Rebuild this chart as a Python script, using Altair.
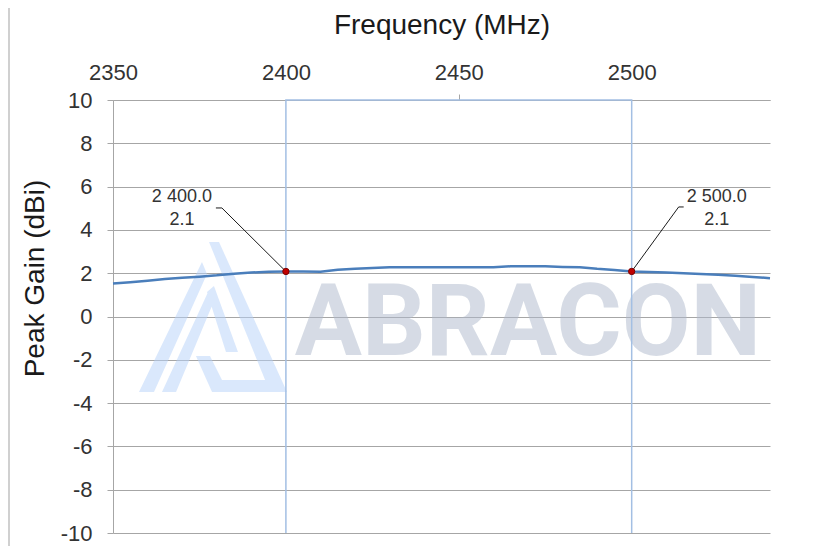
import altair as alt
import pandas as pd

# ---- data ----
freq_mhz = [2350, 2355, 2360, 2365, 2370, 2375, 2380, 2385, 2390, 2395,
            2400, 2405, 2410, 2415, 2420, 2425, 2430, 2435, 2440, 2445,
            2450, 2455, 2460, 2465, 2470, 2475, 2480, 2485, 2490, 2495,
            2500, 2505, 2510, 2515, 2520, 2525, 2530, 2535, 2540]
peak_gain_dbi = [1.52, 1.58, 1.65, 1.73, 1.79, 1.84, 1.90, 1.98, 2.03, 2.07,
                 2.08, 2.08, 2.07, 2.16, 2.20, 2.24, 2.27, 2.27, 2.27, 2.27,
                 2.27, 2.27, 2.28, 2.32, 2.32, 2.32, 2.29, 2.27, 2.20, 2.15,
                 2.08, 2.05, 2.03, 2.00, 1.96, 1.93, 1.88, 1.83, 1.77]
band_freq = [2400, 2400, 2500, 2500]
band_gain = [-10, 10, 10, -10]
marker_freq = [2400, 2500]
x_ticks = [2350, 2400, 2450, 2500]
y_ticks = [-10, -8, -6, -4, -2, 0, 2, 4, 6, 8, 10]

curve = pd.DataFrame({"freq": freq_mhz, "gain": peak_gain_dbi})
band = pd.DataFrame({"freq": band_freq, "gain": band_gain, "order": list(range(len(band_freq)))})
lookup = dict(zip(freq_mhz, peak_gain_dbi))
markers = pd.DataFrame({
    "freq": marker_freq,
    "gain": [lookup[f] for f in marker_freq],
})
markers["l1"] = [f"{f:,.1f}".replace(",", " ") for f in markers["freq"]]
markers["l2"] = [f"{g:.1f}" for g in markers["gain"]]

FONT = "Liberation Sans"
GRID = "#a6a6a6"

x_enc = alt.X("freq:Q",
              scale=alt.Scale(domain=[2350, 2540], nice=False, zero=False),
              axis=alt.Axis(orient="top", values=x_ticks, format="d",
                            title="Frequency (MHz)", titleFontSize=28, titleFont=FONT,
                            titleFontWeight="normal", titleColor="#1a1a1a",
                            titleY=-67, titleBaseline="alphabetic",
                            labelFontSize=22, labelFont=FONT, labelColor="#333333",
                            labelPadding=10, labelFlush=False,
                            tickSize=6, tickColor=GRID,
                            tickOpacity={"condition": {"test": "datum.value === 2450", "value": 1}, "value": 0},
                            domainColor=GRID, grid=False))
y_enc = alt.Y("gain:Q",
              scale=alt.Scale(domain=[-10, 10], nice=False),
              axis=alt.Axis(values=y_ticks, title="Peak Gain (dBi)",
                            labelExpr="'' + datum.value",
                            titleFontSize=28, titleFont=FONT, titleFontWeight="normal",
                            titleColor="#1a1a1a", titleAngle=-90, titleX=-70, titleY=178,
                            titleAlign="center", titleBaseline="alphabetic",
                            labelFontSize=22, labelFont=FONT, labelColor="#333333",
                            labelPadding=15, labelFlush=False,
                            tickSize=6, tickColor=GRID, domainColor=GRID,
                            grid=True, gridColor=GRID, gridWidth=1))

one = pd.DataFrame({"k": [0]})

# ---- decorative frame (top and left edges) ----
frame_top = alt.Chart(one).mark_rule(color="#b8b8b8", strokeWidth=1.5).encode(
    x=alt.value(-106), x2=alt.value(730), y=alt.value(-94))
frame_left = alt.Chart(one).mark_rule(color="#d0d0d0", strokeWidth=2).encode(
    x=alt.value(-104), y=alt.value(-94), y2=alt.value(460))

# ---- watermark ----
wm_text = alt.Chart(one).mark_text(
    text="ABRACON", font="Roboto", fontWeight="bold", fontSize=100,
    align="center", baseline="alphabetic", color="#aeb9cc", opacity=0.5
).encode(x=alt.value(415), y=alt.value(255))

logo_path = (
    "M-0.053,-1 L0.08,-1 L0.987,1 L0.76,1 Z "
    "M-0.227,0.52 L-0.04,0.52 L0.12,0.84 L0.733,0.84 L0.8,1 L-0.013,1 Z "
    "M-0.147,-0.733 L-0.08,-0.573 L-0.787,1 L-0.987,1 Z "
    "M-0.053,-0.36 L0.013,-0.213 L-0.493,1 L-0.68,1 Z "
    "M-0.08,-0.333 L0.013,-0.413 L0.333,0.467 L0.173,0.467 Z"
)
wm_logo = alt.Chart(one).mark_point(
    shape=logo_path, filled=True, color="#b5d1f9", opacity=0.5, strokeWidth=0, size=22500
).encode(x=alt.value(100), y=alt.value(217))

# ---- band marker lines ----
band_line = alt.Chart(band).mark_line(color="#a3bfe3", strokeWidth=1.5).encode(
    x=x_enc, y=y_enc, order="order:Q")

# ---- main curve ----
line = alt.Chart(curve).mark_line(color="#4a7ebb", strokeWidth=2.5).encode(x=x_enc, y=y_enc)

# ---- annotations ----
def annotation(freq, dx_mid, dx_end, dy_end, dx_text):
    d = markers[markers["freq"] == freq]
    base = alt.Chart(d)
    diag = base.mark_rule(color="#1a1a1a", strokeWidth=1, x2Offset=dx_mid, y2Offset=dy_end).encode(
        x=x_enc, y=y_enc, x2="freq:Q", y2="gain:Q")
    hor = base.mark_rule(color="#1a1a1a", strokeWidth=1, xOffset=dx_mid, x2Offset=dx_end,
                         yOffset=dy_end).encode(x=x_enc, y=y_enc, x2="freq:Q")
    t1 = base.mark_text(font=FONT, fontSize=18, color="#333333", align="center",
                        baseline="middle", dx=dx_text, dy=-74).encode(x=x_enc, y=y_enc, text="l1:N")
    t2 = base.mark_text(font=FONT, fontSize=18, color="#333333", align="center",
                        baseline="middle", dx=dx_text, dy=-51).encode(x=x_enc, y=y_enc, text="l2:N")
    return [diag, hor, t1, t2]

ann = annotation(2400, -64, -70, -63.5, -104) + annotation(2500, 47, 52, -64.5, 85)

points = alt.Chart(markers).mark_point(filled=True, color="#c00000", stroke="#7a0000",
                                       strokeWidth=1, size=40, opacity=1).encode(x=x_enc, y=y_enc)

chart = alt.layer(
    frame_top, frame_left, wm_logo, wm_text, band_line, line, *ann, points
).properties(
    width=657, height=433,
    autosize=alt.AutoSizeParams(type="none"),
    padding={"left": 105, "top": 92, "right": 58, "bottom": 13},
).configure_view(strokeWidth=0)

chart.save("out.html", embed_options={"renderer": "svg", "actions": False})
